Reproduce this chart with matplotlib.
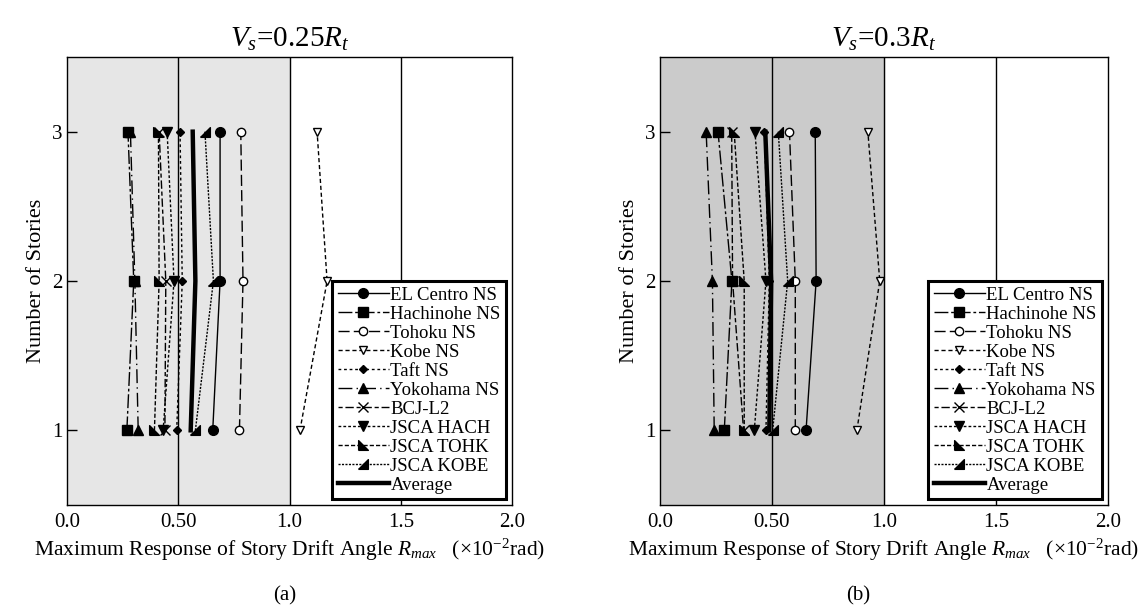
import numpy as np
import matplotlib
matplotlib.use('Agg')
import matplotlib.pyplot as plt

plt.rcParams['font.family'] = ['Liberation Serif', 'DejaVu Serif']
plt.rcParams['mathtext.fontset'] = 'custom'
plt.rcParams['mathtext.rm'] = 'Liberation Serif'
plt.rcParams['mathtext.it'] = 'Liberation Serif:italic'

stories = [1, 2, 3]
labels = ['EL Centro NS', 'Hachinohe NS', 'Tohoku NS', 'Kobe NS', 'Taft NS',
          'Yokohama NS', 'BCJ-L2', 'JSCA HACH', 'JSCA TOHK', 'JSCA KOBE']

# values for stories 1, 2, 3
drift_a = [[0.655, 0.688, 0.688],
           [0.269, 0.300, 0.274],
           [0.775, 0.791, 0.781],
           [1.047, 1.169, 1.124],
           [0.493, 0.518, 0.508],
           [0.320, 0.305, 0.285],
           [0.440, 0.444, 0.414],
           [0.432, 0.481, 0.450],
           [0.393, 0.414, 0.411],
           [0.577, 0.658, 0.620]]
avg_a = [0.556, 0.577, 0.565]

drift_b = [[0.652, 0.697, 0.693],
           [0.287, 0.321, 0.259],
           [0.604, 0.604, 0.578],
           [0.879, 0.981, 0.928],
           [0.473, 0.488, 0.466],
           [0.242, 0.234, 0.206],
           [0.373, 0.324, 0.320],
           [0.421, 0.473, 0.424],
           [0.376, 0.376, 0.331],
           [0.503, 0.570, 0.528]]
avg_b = [0.488, 0.496, 0.470]

titles = [r'$V_{s}$=0.25$R_{t}$', r'$V_{s}$=0.3$R_{t}$']
panels = ['(a)', '(b)']
xticks = [0.0, 0.5, 1.0, 1.5, 2.0]
xticklabels = ['0.0', '0.50', '1.0', '1.5', '2.0']

tri_l = [(-1, -1), (1, -1), (-1, 1), (-1, -1)]
tri_r = [(-1, -1), (1, -1), (1, 1), (-1, -1)]
styles = [
    dict(ls='-', marker='o', ms=7, mfc='k'),
    dict(ls=(0, (10, 2, 2, 2)), marker='s', ms=7, mfc='k'),
    dict(ls=(0, (8, 3)), marker='o', ms=6, mfc='white'),
    dict(ls=(0, (3, 2)), marker='v', ms=6, mfc='white'),
    dict(ls=(0, (2, 2)), marker='D', ms=4.5, mfc='k'),
    dict(ls=(0, (10, 3, 1, 3)), marker='^', ms=7, mfc='k'),
    dict(ls=(0, (3, 2, 6, 2)), marker='x', ms=7, mfc='k'),
    dict(ls=(0, (2, 1.5)), marker='v', ms=7, mfc='k'),
    dict(ls=(0, (3, 1.5)), marker=tri_l, ms=7, mfc='k'),
    dict(ls=(0, (1.5, 1)), marker=tri_r, ms=7, mfc='k'),
]

fig = plt.figure(figsize=(11.47, 6.12), dpi=100)
ax_a = fig.add_axes([67 / 1147, 107 / 612, 445 / 1147, 448 / 612])
ax_b = fig.add_axes([660 / 1147, 107 / 612, 448 / 1147, 448 / 612])

for ax, data, avg, title, shade, cx, panel in [
        (ax_a, drift_a, avg_a, titles[0], '#e6e6e6', 285, panels[0]),
        (ax_b, drift_b, avg_b, titles[1], '#cbcbcb', 858, panels[1])]:
    ax.axvspan(0, 1.0, color=shade, zorder=0)
    for x in [0.5, 1.0, 1.5]:
        ax.axvline(x, color='k', lw=1, zorder=1)
    for vals, lab, st in zip(data, labels, styles):
        ax.plot(vals, stories, color='k', lw=1, mec='k', label=lab, zorder=3, **st)
    ax.plot(avg, stories, color='k', lw=3.2, label='Average', zorder=4)

    ax.set_xlim(0, 2.0)
    ax.set_ylim(0.5, 3.5)
    ax.set_xticks(xticks)
    ax.set_xticklabels(xticklabels)
    ax.set_yticks(stories)
    ax.tick_params(direction='in', labelsize=15, length=7, width=1)
    ax.tick_params(axis='x', length=0, pad=6)
    for s in ax.spines.values():
        s.set_linewidth(1)
    ax.set_ylabel('Number of Stories', fontsize=16, labelpad=4)
    ax.set_xlabel(r'Maximum Response of Story Drift Angle $R_{max}$   ($\times$10$^{-2}$rad)',
                  fontsize=15.5, labelpad=3)
    ax.set_title(title, fontsize=21, pad=7)

    leg = ax.legend(loc='lower right', fontsize=13.5, labelspacing=0.1,
                    handlelength=2.7, handletextpad=0.1, borderpad=0.3,
                    borderaxespad=0.3, fancybox=False, framealpha=1,
                    edgecolor='k')
    leg.get_frame().set_linewidth(2.2)
    fig.text(cx / 1147, 1 - 596 / 612, panel, fontsize=15, ha='center', va='center')

fig.savefig('out.png', dpi=100)
